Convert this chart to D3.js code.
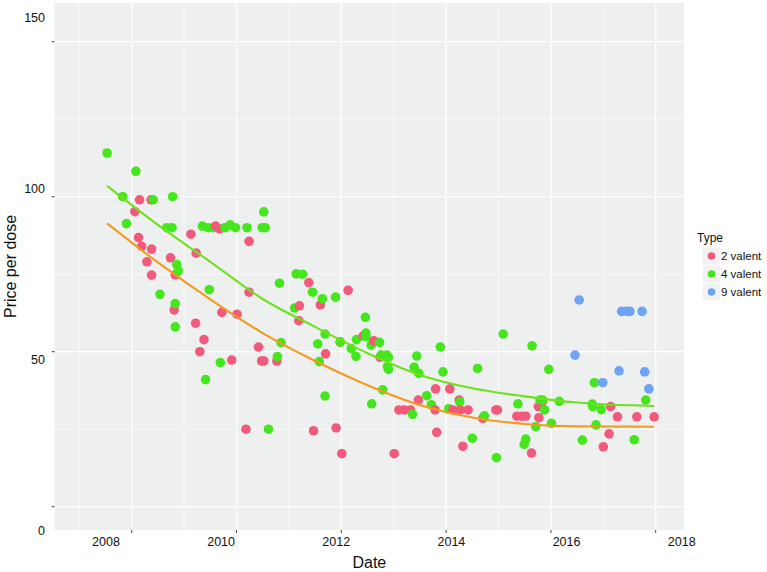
<!DOCTYPE html>
<html>
<head>
<meta charset="utf-8">
<script src="https://cdn.jsdelivr.net/npm/d3@7"></script>
<style>
  body { margin: 0; background: #fff; }
  text { font-family: "Liberation Sans", Arial, Helvetica, sans-serif; fill: #111; }
</style>
</head>
<body>
<script>
const typeNames = ["2 valent", "4 valent", "9 valent"];
const typeColors = ["#F25A7B", "#44E61E", "#6FA3F5"];

// 2 valent
const date2 = [2008.06, 2008.13, 2008.15, 2008.19, 2008.29, 2008.37, 2008.38, 2008.38, 2008.74, 2008.81,
  2008.83, 2009.13, 2009.22, 2009.23, 2009.30, 2009.38, 2009.60, 2009.68, 2009.72, 2009.91,
  2010.01, 2010.18, 2010.24, 2010.24, 2010.42, 2010.48, 2010.52, 2010.77, 2011.19, 2011.20,
  2011.38, 2011.47, 2011.60, 2011.70, 2011.90, 2011.98, 2012.01, 2012.13, 2012.42, 2012.62,
  2012.74, 2013.01, 2013.10, 2013.20, 2013.32, 2013.47, 2013.79, 2013.80, 2013.82, 2014.07,
  2014.13, 2014.25, 2014.27, 2014.32, 2014.42, 2014.70, 2014.95, 2014.98, 2015.35, 2015.44,
  2015.52, 2015.63, 2015.76, 2015.77, 2015.84, 2017.00, 2017.11, 2017.14, 2017.27, 2017.64,
  2017.97];
const price2 = [95.2, 86.8, 99.0, 84.0, 79.0, 99.0, 83.1, 74.7, 80.3, 63.5,
  74.8, 87.9, 59.2, 81.8, 50.0, 53.9, 90.5, 89.6, 62.7, 47.3,
  62.1, 25.0, 85.6, 69.2, 51.5, 47.0, 47.0, 47.0, 60.0, 64.8,
  72.3, 24.5, 65.1, 49.3, 25.4, 53.1, 17.1, 69.8, 55.1, 53.5,
  48.2, 17.1, 31.2, 31.2, 31.2, 34.4, 31.2, 38.0, 24.0, 38.0,
  31.2, 34.4, 31.2, 19.5, 31.2, 28.5, 31.2, 31.2, 29.2, 29.2,
  29.2, 17.3, 32.3, 28.7, 33.9, 19.3, 23.5, 32.3, 29.0, 29.0,
  29.0];

// 4 valent
const date4 = [2007.53, 2007.83, 2007.90, 2008.08, 2008.41, 2008.54, 2008.67, 2008.77, 2008.78, 2008.83,
  2008.83, 2008.86, 2008.89, 2009.35, 2009.41, 2009.46, 2009.48, 2009.56, 2009.69, 2009.78,
  2009.88, 2009.98, 2010.20, 2010.49, 2010.52, 2010.55, 2010.61, 2010.78, 2010.82, 2010.85,
  2011.11, 2011.14, 2011.26, 2011.45, 2011.55, 2011.58, 2011.64, 2011.69, 2011.69, 2011.89,
  2011.98, 2012.19, 2012.28, 2012.29, 2012.46, 2012.47, 2012.47, 2012.57, 2012.58, 2012.73,
  2012.76, 2012.79, 2012.87, 2012.88, 2012.90, 2012.90, 2013.36, 2013.39, 2013.44, 2013.48,
  2013.63, 2013.72, 2013.89, 2013.94, 2014.05, 2014.26, 2014.50, 2014.60, 2014.73, 2014.96,
  2015.09, 2015.37, 2015.49, 2015.52, 2015.64, 2015.71, 2015.79, 2015.84, 2015.88, 2015.96,
  2016.01, 2016.16, 2016.60, 2016.79, 2016.80, 2016.83, 2016.86, 2016.96, 2017.59, 2017.81];
const price4 = [114.1, 100.0, 91.3, 108.2, 99.0, 68.5, 90.0, 90.0, 100.0, 65.5,
  58.0, 78.1, 76.1, 90.5, 41.0, 90.0, 70.0, 90.0, 46.5, 90.0,
  90.9, 90.0, 90.0, 90.0, 95.1, 90.0, 25.0, 48.4, 72.1, 52.9,
  64.1, 75.1, 75.0, 69.2, 52.5, 46.8, 67.1, 55.7, 35.7, 67.6,
  53.1, 51.0, 48.5, 53.9, 61.1, 56.0, 54.8, 52.1, 33.2, 53.0,
  48.9, 37.7, 48.9, 45.2, 48.2, 44.3, 29.8, 45.0, 48.6, 43.0,
  35.8, 32.9, 51.5, 43.5, 31.6, 33.8, 22.1, 44.6, 29.3, 15.8,
  55.7, 33.2, 20.1, 21.8, 51.9, 25.8, 34.4, 34.4, 31.2, 44.3,
  26.9, 34.0, 21.5, 33.1, 32.3, 40.0, 26.4, 31.3, 21.6, 34.4];

// 9 valent
const date9 = [2016.46, 2016.54, 2016.99, 2017.30, 2017.35, 2017.45, 2017.51, 2017.74, 2017.79, 2017.87];
const price9 = [48.9, 66.7, 40.0, 43.8, 63.0, 63.0, 63.0, 63.0, 43.5, 38.0];

// smoothed trend lines
const fitYears = [2007.53, 2008.5, 2009.5, 2010.5, 2011.5, 2012.5, 2013.5, 2014.5, 2015.5, 2016.5, 2017.97];
const fit2 = [91.4, 78.8, 66.9, 56.0, 47.0, 39.2, 32.8, 28.8, 26.7, 25.9, 25.8];
const fit4 = [103.5, 90.9, 79.0, 67.0, 58.0, 49.5, 42.5, 38.2, 35.6, 33.6, 32.5];
const fitColors = ["#F39A1F", "#6FE11F"];

const xTicks = [2008, 2010, 2012, 2014, 2016, 2018];
const xMinor = [2007, 2009, 2011, 2013, 2015, 2017];
const yTicks = [0, 50, 100, 150];
const yMinor = [25, 75, 125];

const width = 767, height = 572;

const x = d3.scaleLinear().domain([2008, 2018]).range([131.7, 655.7]);
const y = d3.scaleLinear().domain([0, 150]).range([506.7, 41.7]);
// tick labels sit slightly stretched relative to the ticks in the original
const xLab = d3.scaleLinear().domain([2008, 2018]).range([106, 681.7]);
const yLab = d3.scaleLinear().domain([0, 150]).range([530.7, 18]);

const panel = { x0: x(2006.53), x1: x(2018.54), y0: y(162.5), y1: y(-7.5) };

const svg = d3.select("body").append("svg")
  .attr("width", width)
  .attr("height", height);

svg.append("rect")
  .attr("x", panel.x0).attr("y", panel.y0)
  .attr("width", panel.x1 - panel.x0).attr("height", panel.y1 - panel.y0)
  .attr("fill", "#EEEFEF");

const grid = svg.append("g").attr("stroke", "#fff");
grid.selectAll(".xminor").data(xMinor).join("line")
  .attr("x1", d => x(d)).attr("x2", d => x(d))
  .attr("y1", panel.y0).attr("y2", panel.y1).attr("stroke-width", 0.6);
grid.selectAll(".yminor").data(yMinor).join("line")
  .attr("y1", d => y(d)).attr("y2", d => y(d))
  .attr("x1", panel.x0).attr("x2", panel.x1).attr("stroke-width", 0.6);
grid.selectAll(".xmajor").data(xTicks).join("line")
  .attr("x1", d => x(d)).attr("x2", d => x(d))
  .attr("y1", panel.y0).attr("y2", panel.y1).attr("stroke-width", 1.3);
grid.selectAll(".ymajor").data(yTicks).join("line")
  .attr("y1", d => y(d)).attr("y2", d => y(d))
  .attr("x1", panel.x0).attr("x2", panel.x1).attr("stroke-width", 1.3);

// points, drawn in date order like the source data
const points = [];
[[date2, price2], [date4, price4], [date9, price9]].forEach(([ds, ps], t) => {
  ds.forEach((d, i) => points.push({ date: d, price: ps[i], type: t }));
});
points.sort((a, b) => a.date - b.date);

svg.append("g").selectAll("circle").data(points).join("circle")
  .attr("cx", d => x(d.date))
  .attr("cy", d => y(d.price))
  .attr("r", 4.8)
  .attr("fill", d => typeColors[d.type]);

// trend lines
const line = d3.line().x(d => x(d[0])).y(d => y(d[1])).curve(d3.curveMonotoneX);
[fit2, fit4].forEach((fit, i) => {
  svg.append("path")
    .datum(fitYears.map((yr, j) => [yr, fit[j]]))
    .attr("d", line)
    .attr("fill", "none")
    .attr("stroke", fitColors[i])
    .attr("stroke-width", 2.1);
});

// axis ticks and labels
svg.append("g").selectAll("line").data(yTicks).join("line")
  .attr("x1", panel.x0 - 3).attr("x2", panel.x0)
  .attr("y1", d => y(d)).attr("y2", d => y(d))
  .attr("stroke", "#444").attr("stroke-width", 1);
svg.append("g").selectAll("text").data(yTicks).join("text")
  .attr("x", 45).attr("y", d => yLab(d))
  .attr("dy", "0.35em")
  .attr("text-anchor", "end")
  .style("font-size", "12.5px")
  .text(d => d);

svg.append("g").selectAll("line").data(xTicks).join("line")
  .attr("x1", d => x(d)).attr("x2", d => x(d))
  .attr("y1", panel.y1).attr("y2", panel.y1 + 3)
  .attr("stroke", "#444").attr("stroke-width", 1);
svg.append("g").selectAll("text").data(xTicks).join("text")
  .attr("x", d => xLab(d)).attr("y", 541.7)
  .attr("dy", "0.35em")
  .attr("text-anchor", "middle")
  .style("font-size", "12.5px")
  .text(d => d);

svg.append("text")
  .attr("x", (panel.x0 + panel.x1) / 2).attr("y", 562)
  .attr("dy", "0.35em")
  .attr("text-anchor", "middle")
  .style("font-size", "16px")
  .text("Date");

svg.append("text")
  .attr("transform", `translate(10,${(panel.y0 + panel.y1) / 2}) rotate(-90)`)
  .attr("dy", "0.35em")
  .attr("text-anchor", "middle")
  .style("font-size", "16px")
  .text("Price per dose");

// legend
const legend = svg.append("g");
legend.append("text")
  .attr("x", 697).attr("y", 238)
  .attr("dy", "0.35em")
  .style("font-size", "12px")
  .text("Type");
const items = legend.selectAll("g").data(typeNames).join("g")
  .attr("transform", (d, i) => `translate(0,${256 + i * 18})`);
items.append("rect")
  .attr("x", 703).attr("y", -8.5).attr("width", 17).attr("height", 17)
  .attr("fill", "#F2F2F2");
items.append("circle")
  .attr("cx", 711.5).attr("cy", 0).attr("r", 3.8)
  .attr("fill", (d, i) => typeColors[i]);
items.append("text")
  .attr("x", 721).attr("y", 0)
  .attr("dy", "0.35em")
  .style("font-size", "11.5px")
  .text(d => d);
</script>
</body>
</html>
